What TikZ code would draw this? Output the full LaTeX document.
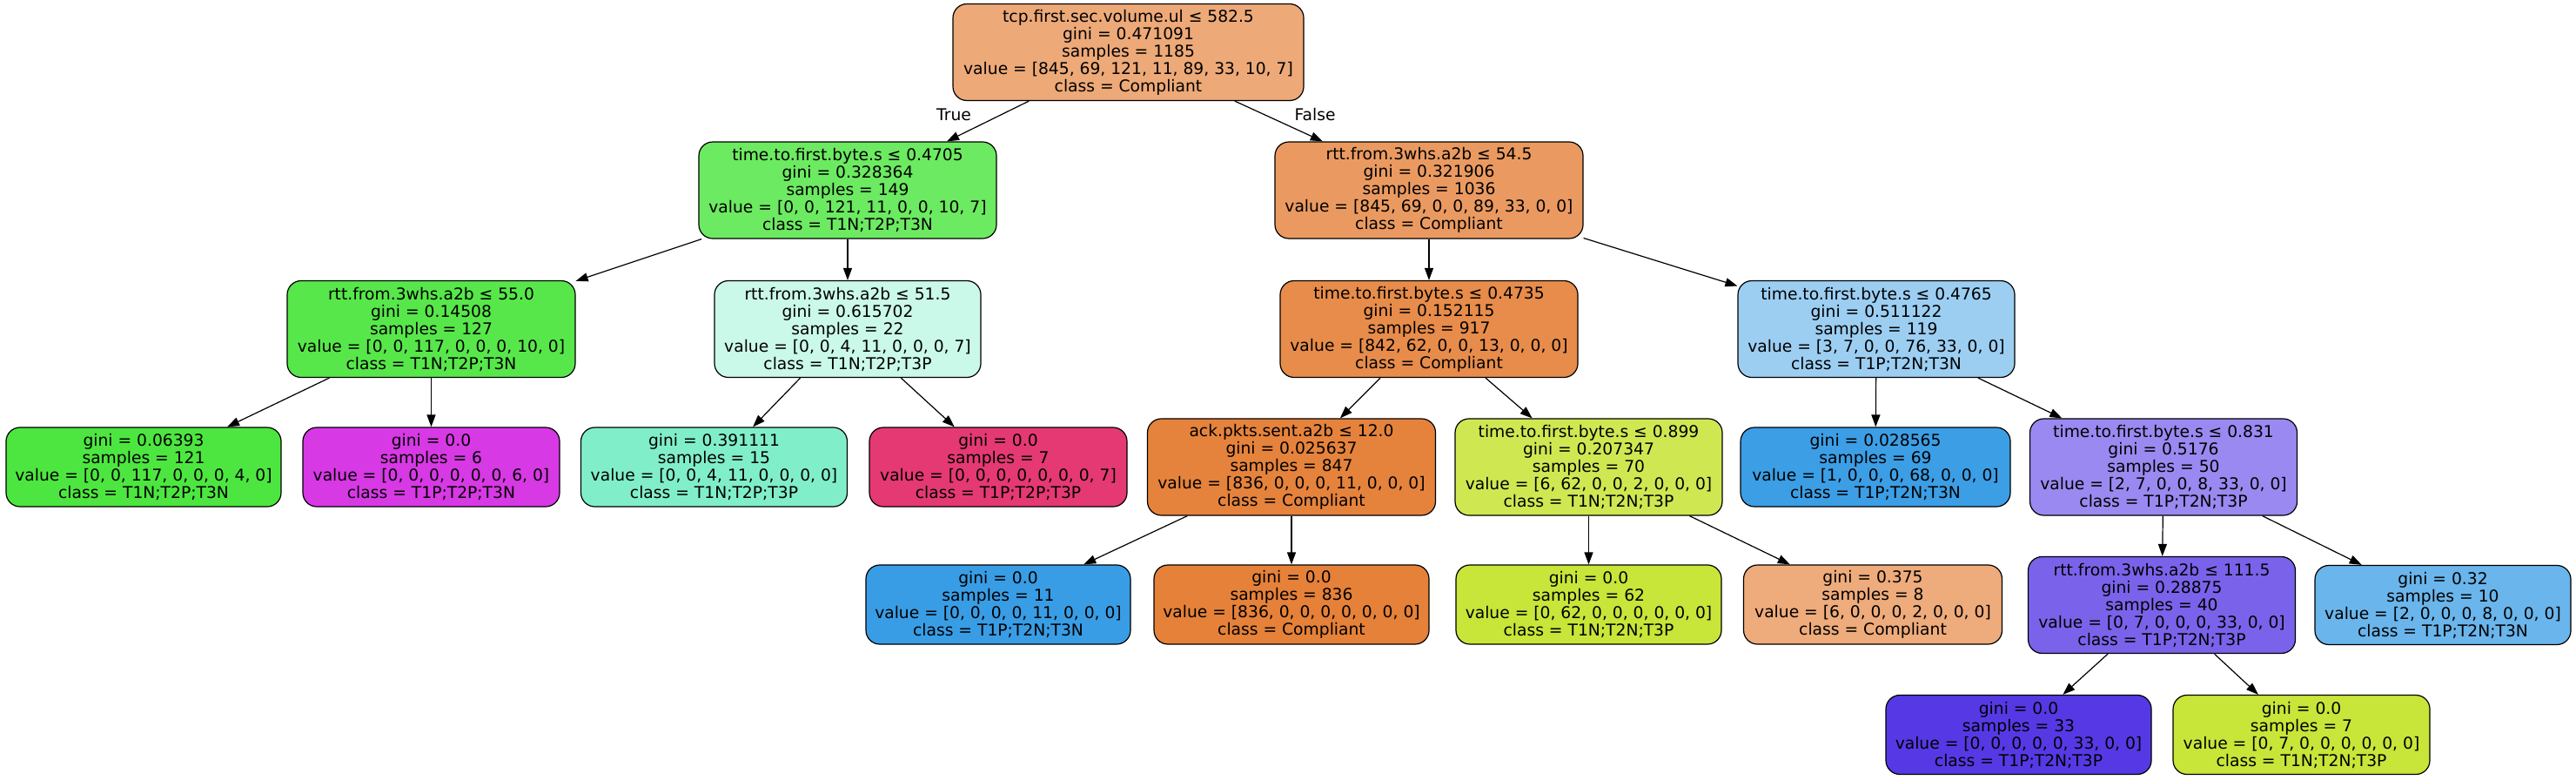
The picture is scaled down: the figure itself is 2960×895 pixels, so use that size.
\documentclass[tikz,border=0pt]{standalone}
\usepackage{fontspec}
\setmainfont{DejaVu Sans}
\usetikzlibrary{arrows.meta}
\definecolor{cRoot}{RGB}{237,169,120}
\definecolor{cNa}{RGB}{108,234,97}
\definecolor{cNb}{RGB}{234,154,97}
\definecolor{cNc}{RGB}{87,231,74}
\definecolor{cNd}{RGB}{202,248,233}
\definecolor{cNe}{RGB}{231,140,74}
\definecolor{cNf}{RGB}{156,206,242}
\definecolor{cNg}{RGB}{229,131,60}
\definecolor{cNh}{RGB}{207,232,82}
\definecolor{cNi}{RGB}{154,137,240}
\definecolor{cNj}{RGB}{122,99,234}
\definecolor{cLa}{RGB}{77,230,64}
\definecolor{cLb}{RGB}{215,57,229}
\definecolor{cLc}{RGB}{129,238,202}
\definecolor{cLd}{RGB}{229,57,115}
\definecolor{cLe}{RGB}{60,158,229}
\definecolor{cLf}{RGB}{106,181,235}
\definecolor{cLg}{RGB}{57,157,229}
\definecolor{cLh}{RGB}{229,129,57}
\definecolor{cLi}{RGB}{200,229,57}
\definecolor{cLj}{RGB}{238,171,123}
\definecolor{cLk}{RGB}{86,57,229}
\definecolor{cLl}{RGB}{200,229,57}
\begin{document}
\begin{tikzpicture}[x=0.5pt,y=-0.5pt,
  tn/.style={draw=black, line width=0.6pt, rounded corners=8pt, align=center,
    inner xsep=0pt, inner ysep=0pt, font=\fontsize{9.35pt}{10pt}\selectfont},
  inode/.style={tn, minimum height=55.5pt},
  lnode/.style={tn, minimum height=45.5pt},
  lbl/.style={font=\fontsize{9.35pt}{10pt}\selectfont, inner sep=0pt},
  edge/.style={-{Triangle[length=7pt,width=5pt]}, line width=0.6pt}]
\useasboundingbox (0,0) rectangle (2960,895);
% level 0
\node[inode, fill=cRoot, minimum width=201.5pt] (root) at (1296.5,60)
  {tcp.first.sec.volume.ul ≤ 582.5\\gini = 0.471091\\samples = 1185\\value = [845, 69, 121, 11, 89, 33, 10, 7]\\class = Compliant};
% level 1
\node[inode, fill=cNa, minimum width=171pt] (n1) at (974,218.5)
  {time.to.first.byte.s ≤ 0.4705\\gini = 0.328364\\samples = 149\\value = [0, 0, 121, 11, 0, 0, 10, 7]\\class = T1N;T2P;T3N};
\node[inode, fill=cNb, minimum width=177pt] (n2) at (1642,218.5)
  {rtt.from.3whs.a2b ≤ 54.5\\gini = 0.321906\\samples = 1036\\value = [845, 69, 0, 0, 89, 33, 0, 0]\\class = Compliant};
% level 2
\node[inode, fill=cNc, minimum width=165.5pt] (n3) at (495.5,378)
  {rtt.from.3whs.a2b ≤ 55.0\\gini = 0.14508\\samples = 127\\value = [0, 0, 117, 0, 0, 0, 10, 0]\\class = T1N;T2P;T3N};
\node[inode, fill=cNd, minimum width=153pt] (n4) at (974,378)
  {rtt.from.3whs.a2b ≤ 51.5\\gini = 0.615702\\samples = 22\\value = [0, 0, 4, 11, 0, 0, 0, 7]\\class = T1N;T2P;T3P};
\node[inode, fill=cNe, minimum width=171pt] (n5) at (1642,378)
  {time.to.first.byte.s ≤ 0.4735\\gini = 0.152115\\samples = 917\\value = [842, 62, 0, 0, 13, 0, 0, 0]\\class = Compliant};
\node[inode, fill=cNf, minimum width=159pt] (n6) at (2156,378)
  {time.to.first.byte.s ≤ 0.4765\\gini = 0.511122\\samples = 119\\value = [3, 7, 0, 0, 76, 33, 0, 0]\\class = T1P;T2N;T3N};
% level 3
\node[lnode, fill=cLa, minimum width=158pt] (l1) at (165,536.5)
  {gini = 0.06393\\samples = 121\\value = [0, 0, 117, 0, 0, 0, 4, 0]\\class = T1N;T2P;T3N};
\node[lnode, fill=cLb, minimum width=147.5pt] (l2) at (495.5,536.5)
  {gini = 0.0\\samples = 6\\value = [0, 0, 0, 0, 0, 0, 6, 0]\\class = T1P;T2P;T3N};
\node[lnode, fill=cLc, minimum width=153pt] (l3) at (820.5,536.5)
  {gini = 0.391111\\samples = 15\\value = [0, 0, 4, 11, 0, 0, 0, 0]\\class = T1N;T2P;T3P};
\node[lnode, fill=cLd, minimum width=148pt] (l4) at (1147,536.5)
  {gini = 0.0\\samples = 7\\value = [0, 0, 0, 0, 0, 0, 0, 7]\\class = T1P;T2P;T3P};
\node[inode, fill=cNg, minimum width=165.5pt] (n7) at (1484,536.5)
  {ack.pkts.sent.a2b ≤ 12.0\\gini = 0.025637\\samples = 847\\value = [836, 0, 0, 0, 11, 0, 0, 0]\\class = Compliant};
\node[inode, fill=cNh, minimum width=153.5pt] (n8) at (1825.5,536.5)
  {time.to.first.byte.s ≤ 0.899\\gini = 0.207347\\samples = 70\\value = [6, 62, 0, 0, 2, 0, 0, 0]\\class = T1N;T2N;T3P};
\node[lnode, fill=cLe, minimum width=155pt] (l5) at (2155,536.5)
  {gini = 0.028565\\samples = 69\\value = [1, 0, 0, 0, 68, 0, 0, 0]\\class = T1P;T2N;T3N};
\node[inode, fill=cNi, minimum width=153.5pt] (n9) at (2486,536.5)
  {time.to.first.byte.s ≤ 0.831\\gini = 0.5176\\samples = 50\\value = [2, 7, 0, 0, 8, 33, 0, 0]\\class = T1P;T2N;T3P};
% level 4
\node[lnode, fill=cLg, minimum width=152pt] (l7) at (1147,694.5)
  {gini = 0.0\\samples = 11\\value = [0, 0, 0, 0, 11, 0, 0, 0]\\class = T1P;T2N;T3N};
\node[lnode, fill=cLh, minimum width=158pt] (l8) at (1484,694.5)
  {gini = 0.0\\samples = 836\\value = [836, 0, 0, 0, 0, 0, 0, 0]\\class = Compliant};
\node[lnode, fill=cLi, minimum width=152.5pt] (l9) at (1825.5,694.5)
  {gini = 0.0\\samples = 62\\value = [0, 62, 0, 0, 0, 0, 0, 0]\\class = T1N;T2N;T3P};
\node[lnode, fill=cLj, minimum width=148.5pt] (l10) at (2152,694.5)
  {gini = 0.375\\samples = 8\\value = [6, 0, 0, 0, 2, 0, 0, 0]\\class = Compliant};
\node[inode, fill=cNj, minimum width=153.5pt] (n10) at (2484,695)
  {rtt.from.3whs.a2b ≤ 111.5\\gini = 0.28875\\samples = 40\\value = [0, 7, 0, 0, 0, 33, 0, 0]\\class = T1P;T2N;T3P};
\node[lnode, fill=cLf, minimum width=147pt] (l6) at (2807,695)
  {gini = 0.32\\samples = 10\\value = [2, 0, 0, 0, 8, 0, 0, 0]\\class = T1P;T2N;T3N};
% level 5
\node[lnode, fill=cLk, minimum width=152.5pt] (l11) at (2319.5,844)
  {gini = 0.0\\samples = 33\\value = [0, 0, 0, 0, 0, 33, 0, 0]\\class = T1P;T2N;T3P};
\node[lnode, fill=cLl, minimum width=147.5pt] (l12) at (2644.5,844)
  {gini = 0.0\\samples = 7\\value = [0, 7, 0, 0, 0, 0, 0, 0]\\class = T1N;T2N;T3P};
% edge labels
\node[lbl] (lblT) at (1096,132) {True};
\node[lbl] (lblF) at (1511,132) {False};
% edges
\draw[edge] (root) -- (n1);
\draw[edge] (root) -- (n2);
\draw[edge] (n1) -- (n3);
\draw[edge] (n1) -- (n4);
\draw[edge] (n2) -- (n5);
\draw[edge] (n2) -- (n6);
\draw[edge] (n3) -- (l1);
\draw[edge] (n3) -- (l2);
\draw[edge] (n4) -- (l3);
\draw[edge] (n4) -- (l4);
\draw[edge] (n5) -- (n7);
\draw[edge] (n5) -- (n8);
\draw[edge] (n6) -- (l5);
\draw[edge] (n6) -- (n9);
\draw[edge] (n7) -- (l7);
\draw[edge] (n7) -- (l8);
\draw[edge] (n8) -- (l9);
\draw[edge] (n8) -- (l10);
\draw[edge] (n9) -- (n10);
\draw[edge] (n9) -- (l6);
\draw[edge] (n10) -- (l11);
\draw[edge] (n10) -- (l12);
\end{tikzpicture}
\end{document}
